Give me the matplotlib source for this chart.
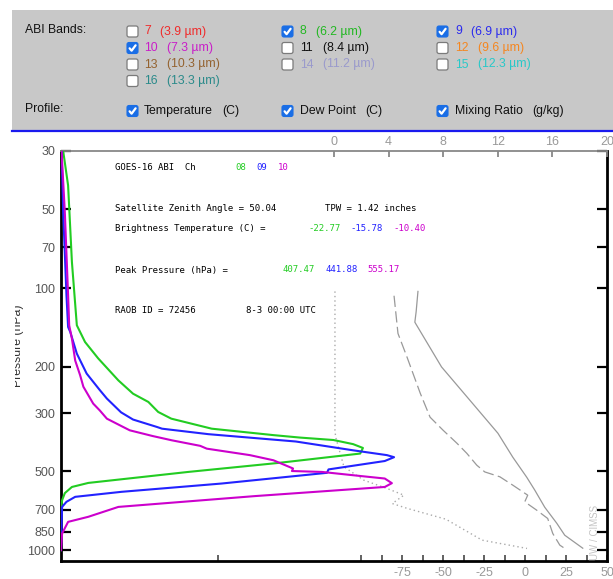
import matplotlib
matplotlib.use('Agg')
import matplotlib.pyplot as plt
from matplotlib.patches import Rectangle, FancyBboxPatch
from matplotlib.lines import Line2D
from matplotlib.transforms import Bbox, IdentityTransform
from matplotlib.ticker import NullLocator

W, H = 613, 579

# ---------------- data ----------------
# pressure axis
p_ticks = [30, 50, 70, 100, 200, 300, 500, 700, 850, 1000]
p_labels = ['30', '50', '70', '100', '200', '300', '500', '700', '850', '1000']
# temperature axis (bottom)
t_ticks = [-75, -50, -25, 0, 25, 50]
t_labels = ['-75', '-50', '-25', '0', '25', '50']
t_minor = [-187.5, -100, -87.5, -62.5, -37.5, -12.5, 12.5, 37.5]
# mixing ratio axis (top)
w_ticks = [0, 4, 8, 12, 16, 20]
w_labels = ['0', '4', '8', '12', '16', '20']

# sounding profiles
temp_p = [103, 123, 135, 200, 268, 358, 442, 527, 590, 686, 789, 877, 983]
temp_c = [-65.4, -66.5, -67.3, -51.0, -33.7, -16.6, -7.5, 1.0, 5.9, 12.0, 19.3, 24.2, 35.2]
dewp_p = [107, 149, 184, 252, 311, 349, 391, 427, 474, 503, 525, 565, 617, 654, 704, 757, 864, 957, 985]
dewp_c = [-80.0, -77.6, -72.0, -64.0, -58.0, -50.0, -41.6, -35.6, -29.5, -24.6, -15.4, -7.5, 1.6, -0.2, 7.1, 13.8, 16.9, 21.2, 24.2]
mixr_p = [103, 349, 370, 481, 541, 582, 617, 664, 693, 762, 916, 985]
mixr_gkg = [0.07, 0.07, 0.12, 0.73, 2.19, 3.9, 5.12, 4.27, 5.37, 8.2, 10.85, 14.14]

# weighting functions (normalised units, 0..1 of panel width)
wf08_p = [30, 40.6, 79.6, 138.7, 160.6, 185.4, 225, 253, 272, 297, 315, 344, 364, 372, 380, 394, 407.5,
          428, 465, 503, 554, 574, 606, 645, 700, 1000]
wf08_w = [0.004, 0.013, 0.020, 0.029, 0.044, 0.068, 0.105, 0.132, 0.160, 0.178, 0.202, 0.276, 0.389, 0.438,
          0.499, 0.535, 0.553, 0.548, 0.397, 0.233, 0.050, 0.020, 0.007, 0.002, 0.0, 0.0]
wf09_p = [30, 51.3, 106.6, 140.8, 147.2, 177.9, 212, 245, 264, 298, 317.5, 339, 344, 361, 385, 416, 434,
          441.9, 457, 492, 507, 557, 599, 626, 654, 684, 1000]
wf09_w = [0.001, 0.004, 0.010, 0.013, 0.017, 0.029, 0.047, 0.071, 0.084, 0.110, 0.132, 0.176, 0.185, 0.270,
          0.430, 0.535, 0.597, 0.610, 0.593, 0.490, 0.487, 0.294, 0.111, 0.026, 0.010, 0.002, 0.0]
wf10_p = [30, 51.3, 106.6, 138.7, 156, 189, 215, 238, 276, 293, 315, 339, 349, 367, 381, 400, 410, 434,
          454, 488, 499, 503, 522, 533, 555.2, 574, 622, 684, 746, 780, 864, 1000]
wf10_w = [0.001, 0.007, 0.013, 0.015, 0.020, 0.026, 0.035, 0.041, 0.059, 0.071, 0.084, 0.114, 0.126, 0.168,
          0.203, 0.255, 0.267, 0.346, 0.389, 0.425, 0.423, 0.478, 0.551, 0.593, 0.606, 0.593, 0.355, 0.105,
          0.050, 0.013, 0.002, 0.0]

band_nums = ['7', '8', '9', '10', '11', '12', '13', '14', '15', '16']
band_waves = ['(3.9 µm)', '(6.2 µm)', '(6.9 µm)', '(7.3 µm)', '(8.4 µm)', '(9.6 µm)',
              '(10.3 µm)', '(11.2 µm)', '(12.3 µm)', '(13.3 µm)']
band_colors = ['#f02a2a', '#22b822', '#2b2bee', '#c81ec8', '#111111', '#f5861f',
               '#94622f', '#9a9acc', '#28c8c8', '#2a8a8a']
band_checked = [False, True, True, True, False, False, False, False, False, False]

profile_names = ['Temperature', 'Dew Point', 'Mixing Ratio']
profile_units = ['(C)', '(C)', '(g/kg)']

ch_labels = ['08', '09', '10']
ch_colors = ['#22cc22', '#2222ff', '#cc00cc']
bright_temp = ['-22.77', '-15.78', '-10.40']
peak_press = ['407.47', '441.88', '555.17']

# ---------------- figure ----------------
fig = plt.figure(figsize=(W / 100, H / 100), dpi=100)
fig.patch.set_facecolor('white')
PX = IdentityTransform()


def fx(x):
    return x / W


def fy(y):
    return 1 - y / H


HFONT = 'Liberation Sans'

# header panel
fig.add_artist(Rectangle((12, H - 130), W - 12, 120, transform=PX, facecolor='#c8c8c8',
                         edgecolor='none', zorder=0))
fig.add_artist(Line2D([12, W], [H - 131, H - 131], transform=PX, color='#1a1aee', lw=1.6))


def checkbox(x0, ytop, checked):
    s = 11
    if checked:
        fig.add_artist(FancyBboxPatch((x0, H - ytop - s), s, s, boxstyle='round,pad=0,rounding_size=2',
                                      transform=PX, facecolor='#1a6ee6', edgecolor='#1a6ee6', lw=0.8))
        fig.add_artist(Line2D([x0 + 2.6, x0 + 4.6, x0 + 8.6],
                              [H - ytop - 5.8, H - ytop - 8.2, H - ytop - 2.8],
                              transform=PX, color='white', lw=1.6, solid_capstyle='round'))
    else:
        fig.add_artist(FancyBboxPatch((x0, H - ytop - s), s, s, boxstyle='round,pad=0,rounding_size=2',
                                      transform=PX, facecolor='white', edgecolor='#7a7a7a', lw=0.9))


col_box = [127, 282, 437]
col_num = [144, 300, 455]
rows_y = [31.5, 48, 64.5, 81]

fig.text(fx(25), fy(30), 'ABI Bands:', fontsize=8.8, family=HFONT, color='#111', va='center')
for i in range(len(band_nums)):
    r, c = divmod(i, 3)
    y = rows_y[r]
    checkbox(col_box[c], y - 5.5, band_checked[i])
    fig.text(fx(col_num[c]), fy(y), band_nums[i], fontsize=8.8, family=HFONT,
             color=band_colors[i], va='center')
    off = 16 if len(band_nums[i]) == 1 else 23
    fig.text(fx(col_num[c] + off), fy(y), band_waves[i], fontsize=8.8, family=HFONT,
             color=band_colors[i], va='center')

fig.text(fx(25), fy(109.5), 'Profile:', fontsize=8.8, family=HFONT, color='#111', va='center')
unit_off = [78, 65, 77]
for c in range(3):
    checkbox(col_box[c], 111 - 5.5, True)
    fig.text(fx(col_num[c]), fy(111), profile_names[c], fontsize=8.8, family=HFONT,
             color='#111', va='center')
    fig.text(fx(col_num[c] + unit_off[c]), fy(111), profile_units[c], fontsize=8.8,
             family=HFONT, color='#111', va='center')

# ---------------- main axes ----------------
ax = fig.add_axes([fx(61), fy(561), fx(607) - fx(61), fy(151) - fy(561)])
ax.set_yscale('log')
ax.set_ylim(1100, 30)
ax.set_xlim(-283.3, 50)
ax.set_facecolor('white')

ax.plot(temp_c, temp_p, color='#999999', lw=0.9, zorder=2)
ax.plot(dewp_c, dewp_p, color='#999999', lw=0.9, dashes=(9, 3.5), zorder=2)

ax.set_yticks(p_ticks)
ax.set_yticklabels(p_labels)
ax.yaxis.set_minor_locator(NullLocator())
ax.tick_params(axis='y', which='major', direction='in', left=True, right=True, length=7,
               width=1.6, color='black', labelcolor='#555555', labelsize=9, pad=4)
for lab in ax.get_yticklabels():
    lab.set_family(HFONT)

ax.set_xticks(t_ticks)
ax.set_xticklabels(t_labels)
ax.set_xticks(t_minor, minor=True)
ax.tick_params(axis='x', which='both', direction='in', bottom=True, top=False, length=4,
               width=1.3, color='#555555', labelcolor='#999999', labelsize=9, pad=4.3)
for lab in ax.get_xticklabels():
    lab.set_family(HFONT)

for side in ['left', 'bottom', 'right']:
    ax.spines[side].set_color('black')
    ax.spines[side].set_linewidth(2)
ax.spines['top'].set_color('#888888')
ax.spines['top'].set_linewidth(1.3)

# mixing ratio axis (top)
ax_mr = ax.twiny()
ax_mr.set_xlim(-20, 20)
ax_mr.plot(mixr_gkg, mixr_p, color='#aaaaaa', lw=1.0, linestyle=(0, (1, 2.2)), zorder=2)
ax_mr.set_xticks(w_ticks)
ax_mr.set_xticklabels(w_labels)
ax_mr.tick_params(axis='x', direction='in', top=True, bottom=False, length=4, width=1.3,
                  color='#888888', labelcolor='#999999', labelsize=9, pad=2)
for lab in ax_mr.get_xticklabels():
    lab.set_family(HFONT)
for sp in ax_mr.spines.values():
    sp.set_visible(False)

# weighting function axis
ax_wf = ax.twiny()
ax_wf.set_xlim(0, 1)
ax_wf.xaxis.set_visible(False)
for sp in ax_wf.spines.values():
    sp.set_visible(False)
ax_wf.plot(wf08_w, wf08_p, color=ch_colors[0], lw=1.5, zorder=3)
ax_wf.plot(wf09_w, wf09_p, color=ch_colors[1], lw=1.5, zorder=3)
ax_wf.plot(wf10_w, wf10_p, color=ch_colors[2], lw=1.5, zorder=3)

# ---------------- in-plot annotation text ----------------
MONO = 'DejaVu Sans Mono'
MS = 6.5


def mtext(x, y, s, color='black'):
    fig.text(fx(x), fy(y), s, fontsize=MS, family=MONO, color=color, va='center', ha='left')


mtext(115, 167, 'GOES-16 ABI  Ch')
for k, xx in enumerate([235.7, 256.7, 277.5]):
    mtext(xx, 167, ch_labels[k], ch_colors[k])
mtext(115, 208.5, 'Satellite Zenith Angle = 50.04')
mtext(325, 208.5, 'TPW = 1.42 inches')
mtext(115, 228.5, 'Brightness Temperature (C) =')
for k, xx in enumerate([308.3, 350.7, 393.0]):
    mtext(xx, 228.5, bright_temp[k], ch_colors[k])
mtext(115, 270, 'Peak Pressure (hPa) =')
for k, xx in enumerate([282.7, 325.0, 367.3]):
    mtext(xx, 270, peak_press[k], ch_colors[k])
mtext(115, 311, 'RAOB ID = 72456')
mtext(246, 311, '8-3 00:00 UTC')

# y label (partly clipped at the left edge, as in the reference)
yl = fig.text(fx(21), fy(346), 'Pressure (hPa)', rotation=90, rotation_mode='anchor',
              ha='center', va='baseline', fontsize=8.8, family=HFONT, color='#333333')
yl.set_clip_box(Bbox.from_extents(14.5, 0, W, H))

fig.text(fx(595), fy(532), 'UW / CIMSS', rotation=90, ha='center', va='center', fontsize=7,
         family=HFONT, color='#c4c4c4')

fig.savefig('out.png', dpi=100, facecolor='white')
